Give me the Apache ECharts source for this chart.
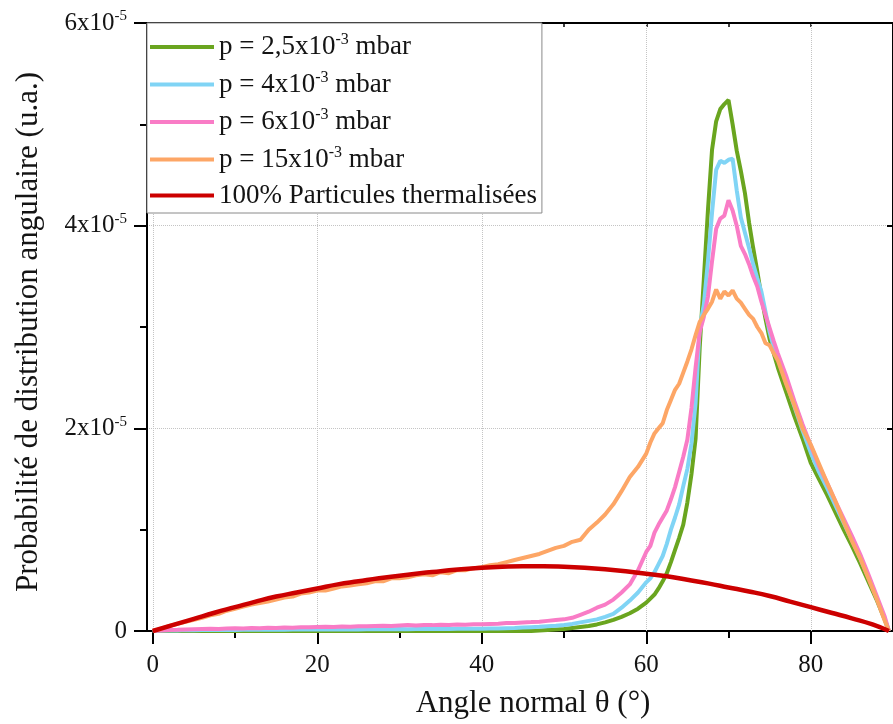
<!DOCTYPE html>
<html><head><meta charset="utf-8">
<script src="https://cdn.jsdelivr.net/npm/echarts@6/dist/echarts.min.js"></script>
<style>html,body{margin:0;padding:0;background:#fff}#c{width:893px;height:724px}</style>
</head><body><div id="c"></div>
<script>
// Angles (degrees) shared by the four measured curves
const angles = [0,1,2,3,4,5,6,7,8,9,10,11,12,13,14,15,16,17,18,19,20,21,22,23,24,25,26,27,28,29,30,31,32,33,34,35,36,37,38,39,40,41,42,43,44,45,46,47,48,49,50,51,52,53,54,55,56,57,58,59,60,
  60.5,61,61.5,62,62.5,63,63.5,64,64.5,65,65.5,66,66.5,67,67.5,68,68.5,69,69.5,70,70.5,71,71.5,72,72.5,73,73.5,74,74.5,75,75.5,76,
  77,78,79,80,81,82,83,84,85,86,87,88,89,89.5];

// Values in units of 1e-5
const p25Values = [0,0,0,0,0,0,0,0,0,0, 0,0,0,0,0,0,0,0,0,0, 0,0,0,0,0,0,0,0,0,0, 0,0,0,0,0,0,0,0,0,0,
  0,0,0,0,0,0,0,0.005,0.01,0.015, 0.02,0.03,0.04,0.05,0.065,0.085,0.11,0.14,0.175,0.22, 0.28,
  0.32,0.36,0.42,0.49,0.57,0.68,0.8,0.92,1.05,1.27, 1.55,1.9,2.8,3.47,4.15,4.75,5.03,5.15,5.2,5.24,
  5.0,4.74,4.54,4.32,4.03,3.78,3.55,3.3,3.08,2.88, 2.74,2.6,
  2.36,2.12,1.9,1.66,1.5,1.34,1.17,1.0,0.84,0.67,0.49,0.31,0.11, 0];

const p4Values = [0,0.005,0.008,0.006,0.01,0.008,0.01,0.012,0.01,0.012, 0.01,0.012,0.014,0.012,0.013,0.015,0.012,0.014,0.016,0.014,
  0.015,0.017,0.015,0.016,0.018,0.016,0.018,0.017,0.019,0.018, 0.02,0.018,0.02,0.021,0.019,0.022,0.02,0.022,0.021,0.023,
  0.022,0.024,0.025,0.028,0.03,0.034,0.038,0.042,0.048,0.052, 0.06,0.07,0.085,0.1,0.115,0.14,0.17,0.23,0.3,0.38, 0.48,
  0.52,0.58,0.66,0.74,0.86,1.0,1.12,1.25,1.43,1.6, 1.85,2.25,3.0,3.22,3.65,4.13,4.55,4.64,4.62,4.65,
  4.66,4.35,4.08,3.93,3.78,3.62,3.48,3.35,3.15,2.95, 2.8,2.7,
  2.46,2.22,1.98,1.76,1.57,1.41,1.24,1.07,0.9,0.72,0.53,0.33,0.12, 0];

const p6Values = [0,0.005,0.01,0.012,0.015,0.018,0.02,0.022,0.02,0.025, 0.027,0.025,0.03,0.028,0.032,0.03,0.035,0.033,0.038,0.036,
  0.04,0.042,0.04,0.045,0.043,0.048,0.046,0.05,0.052,0.05, 0.055,0.058,0.055,0.06,0.058,0.062,0.06,0.064,0.062,0.066,
  0.066,0.07,0.072,0.078,0.08,0.085,0.088,0.092,0.1,0.108, 0.115,0.13,0.16,0.19,0.23,0.26,0.31,0.38,0.46,0.6, 0.78,
  0.84,0.97,1.05,1.12,1.19,1.3,1.42,1.57,1.72,1.89, 2.2,2.6,2.95,3.1,3.3,3.65,3.97,4.07,4.1,4.25,
  4.15,4.0,3.8,3.72,3.62,3.5,3.4,3.25,3.12,2.99, 2.86,2.74,
  2.52,2.27,2.04,1.83,1.63,1.46,1.28,1.11,0.94,0.76,0.56,0.35,0.14, 0];

const p15Values = [0,0.02,0.05,0.07,0.09,0.11,0.13,0.155,0.17,0.2, 0.22,0.24,0.26,0.275,0.29,0.31,0.33,0.34,0.37,0.38,
  0.4,0.4,0.42,0.44,0.45,0.46,0.47,0.49,0.49,0.52, 0.52,0.53,0.55,0.56,0.55,0.58,0.57,0.6,0.6,0.62,
  0.63,0.65,0.66,0.68,0.7,0.72,0.74,0.76,0.79,0.82, 0.84,0.88,0.9,1.0,1.07,1.15,1.25,1.38,1.52,1.62, 1.75,
  1.86,1.95,2.0,2.05,2.18,2.28,2.38,2.44,2.55,2.66, 2.78,2.92,3.05,3.12,3.18,3.25,3.37,3.28,3.35,3.31,
  3.36,3.28,3.24,3.18,3.12,3.08,3.0,2.94,2.84,2.82, 2.74,2.67,
  2.44,2.23,2.0,1.84,1.65,1.46,1.28,1.08,0.89,0.72,0.52,0.32,0.1, 0];

// Fully thermalised reference curve
const thermAngles = [0,2.5,5,7.5,10,12.5,15,17.5,20,22.5,25,27.5,30,32.5,35,37.5,40,42.5,45,47.5,50,52.5,55,57.5,60,62.5,65,67.5,70,72.5,75,77.5,80,82.5,85,87.5,89.5];
const thermValues = [0,0.06,0.12,0.18,0.235,0.29,0.34,0.38,0.42,0.46,0.49,0.52,0.545,0.57,0.59,0.61,0.625,0.635,0.64,0.64,0.635,0.625,0.61,0.59,0.565,0.54,0.505,0.47,0.43,0.39,0.345,0.29,0.235,0.18,0.125,0.065,0];

const seriesNames = ['p = 2,5x10-3 mbar','p = 4x10-3 mbar','p = 6x10-3 mbar','p = 15x10-3 mbar','100% Particules thermalisées'];
const legendLabels = ['{n|p = 2,5x10}{s|-3}{n| mbar}','{n|p = 4x10}{s|-3}{n| mbar}','{n|p = 6x10}{s|-3}{n| mbar}','{n|p = 15x10}{s|-3}{n| mbar}','{n|100% Particules thermalisées}'];
const colors = ['#6AA51F','#80D4F5','#F97CC6','#FDA666','#CC0000'];
const xMajor = [0,20,40,60,80];
const xMinor = [10,30,50,70];
const xTop = [10,20,30,40,50,60,70,80];

const FONT = '"Liberation Serif","Times New Roman",serif';
const TXT = '#141414';
const pairs = (xs, ys) => xs.map((x, i) => [x, ys[i]]);
const measured = [p25Values, p4Values, p6Values, p15Values];

const chart = echarts.init(document.getElementById('c'), null, {renderer: 'canvas'});
const series = measured.map((vals, i) => ({
  name: seriesNames[i], type: 'line', data: pairs(angles, vals),
  xAxisIndex: 0, yAxisIndex: 0,
  showSymbol: false, symbol: 'none', lineStyle: {width: 4, color: colors[i]}, itemStyle: {color: colors[i]},
  z: 2 + i
}));
series[0].markLine = {
  silent: true, symbol: ['none', 'none'], z: 1, label: {show: false},
  lineStyle: {type: 'dotted', color: '#c4c4c4', width: 1},
  data: xMajor.map(v => ({xAxis: v}))
};
series.push({
  name: seriesNames[4], type: 'line', data: pairs(thermAngles, thermValues), smooth: true,
  showSymbol: false, symbol: 'none', lineStyle: {width: 4.5, color: colors[4]}, itemStyle: {color: colors[4]}, z: 7
});

const legendMap = {};
seriesNames.forEach((n, i) => legendMap[n] = legendLabels[i]);

chart.setOption({
  animation: false,
  backgroundColor: '#fff',
  grid: {left: 147, right: -3, top: 23, bottom: 93, containLabel: false},
  legend: {
    orient: 'vertical', left: 147, top: 23, data: seriesNames,
    icon: 'rect', itemWidth: 64, itemHeight: 4, itemGap: 9,
    padding: [9, 5, 4, 3], borderColor: '#8a8a8a', borderWidth: 1, backgroundColor: '#fff',
    formatter: n => legendMap[n],
    textStyle: {
      fontFamily: FONT, color: TXT,
      rich: {
        n: {fontFamily: FONT, fontSize: 27, color: TXT, lineHeight: 30},
        s: {fontFamily: FONT, fontSize: 16, color: TXT, verticalAlign: 'top', lineHeight: 22}
      }
    }
  },
  xAxis: [
    {
      type: 'value', min: -0.7, max: 90, position: 'bottom',
      name: 'Angle normal θ (°)', nameLocation: 'middle', nameGap: 57,
      nameTextStyle: {fontFamily: FONT, fontSize: 31, color: TXT, padding: [0, 0, 0, 26]},
      axisLine: {show: true, onZero: false, lineStyle: {color: '#000', width: 2}},
      axisTick: {show: true, customValues: xMajor, length: 13, lineStyle: {color: '#000', width: 2}},
      axisLabel: {show: true, customValues: xMajor, margin: 22, fontFamily: FONT, fontSize: 25, color: TXT},
      splitLine: {show: false}
    },
    {
      type: 'value', min: -0.7, max: 90, position: 'bottom',
      axisLine: {show: false}, axisLabel: {show: false}, splitLine: {show: false},
      axisTick: {show: true, customValues: xMinor, length: 7, lineStyle: {color: '#000', width: 2}}
    },
    {
      type: 'value', min: -0.7, max: 90, position: 'top',
      axisLine: {show: true, onZero: false, lineStyle: {color: '#000', width: 2}},
      axisLabel: {show: false}, splitLine: {show: false},
      axisTick: {show: true, inside: true, customValues: xTop, length: 4, lineStyle: {color: '#000', width: 1.5}}
    }
  ],
  yAxis: [
    {
      type: 'value', min: 0, max: 6, interval: 2, position: 'left',
      name: 'Probabilité de distribution angulaire (u.a.)', nameLocation: 'middle', nameGap: 103,
      nameTextStyle: {fontFamily: FONT, fontSize: 31, color: TXT, padding: [0, 10, 0, 0]},
      axisLine: {show: true, onZero: false, lineStyle: {color: '#000', width: 2}},
      axisTick: {show: true, length: 13, lineStyle: {color: '#000', width: 2}},
      minorTick: {show: true, splitNumber: 2, length: 7, lineStyle: {color: '#000', width: 2}},
      axisLabel: {
        margin: 20, color: TXT, fontFamily: FONT,
        formatter: v => v === 0 ? '{b|0}' : '{b|' + v + 'x10}{s|-5}',
        rich: {
          b: {fontFamily: FONT, fontSize: 25, color: TXT, lineHeight: 28},
          s: {fontFamily: FONT, fontSize: 15, color: TXT, verticalAlign: 'top', lineHeight: 20}
        }
      },
      splitLine: {show: true, lineStyle: {type: 'dotted', color: '#c4c4c4', width: 1}}
    },
    {
      type: 'value', min: 0, max: 6, interval: 2, position: 'right',
      axisLine: {show: true, onZero: false, lineStyle: {color: '#000', width: 2}},
      axisTick: {show: true, inside: true, length: 6, lineStyle: {color: '#000', width: 2}},
      axisLabel: {show: false}, splitLine: {show: false}
    }
  ],
  series: series
});
</script>
</body></html>
